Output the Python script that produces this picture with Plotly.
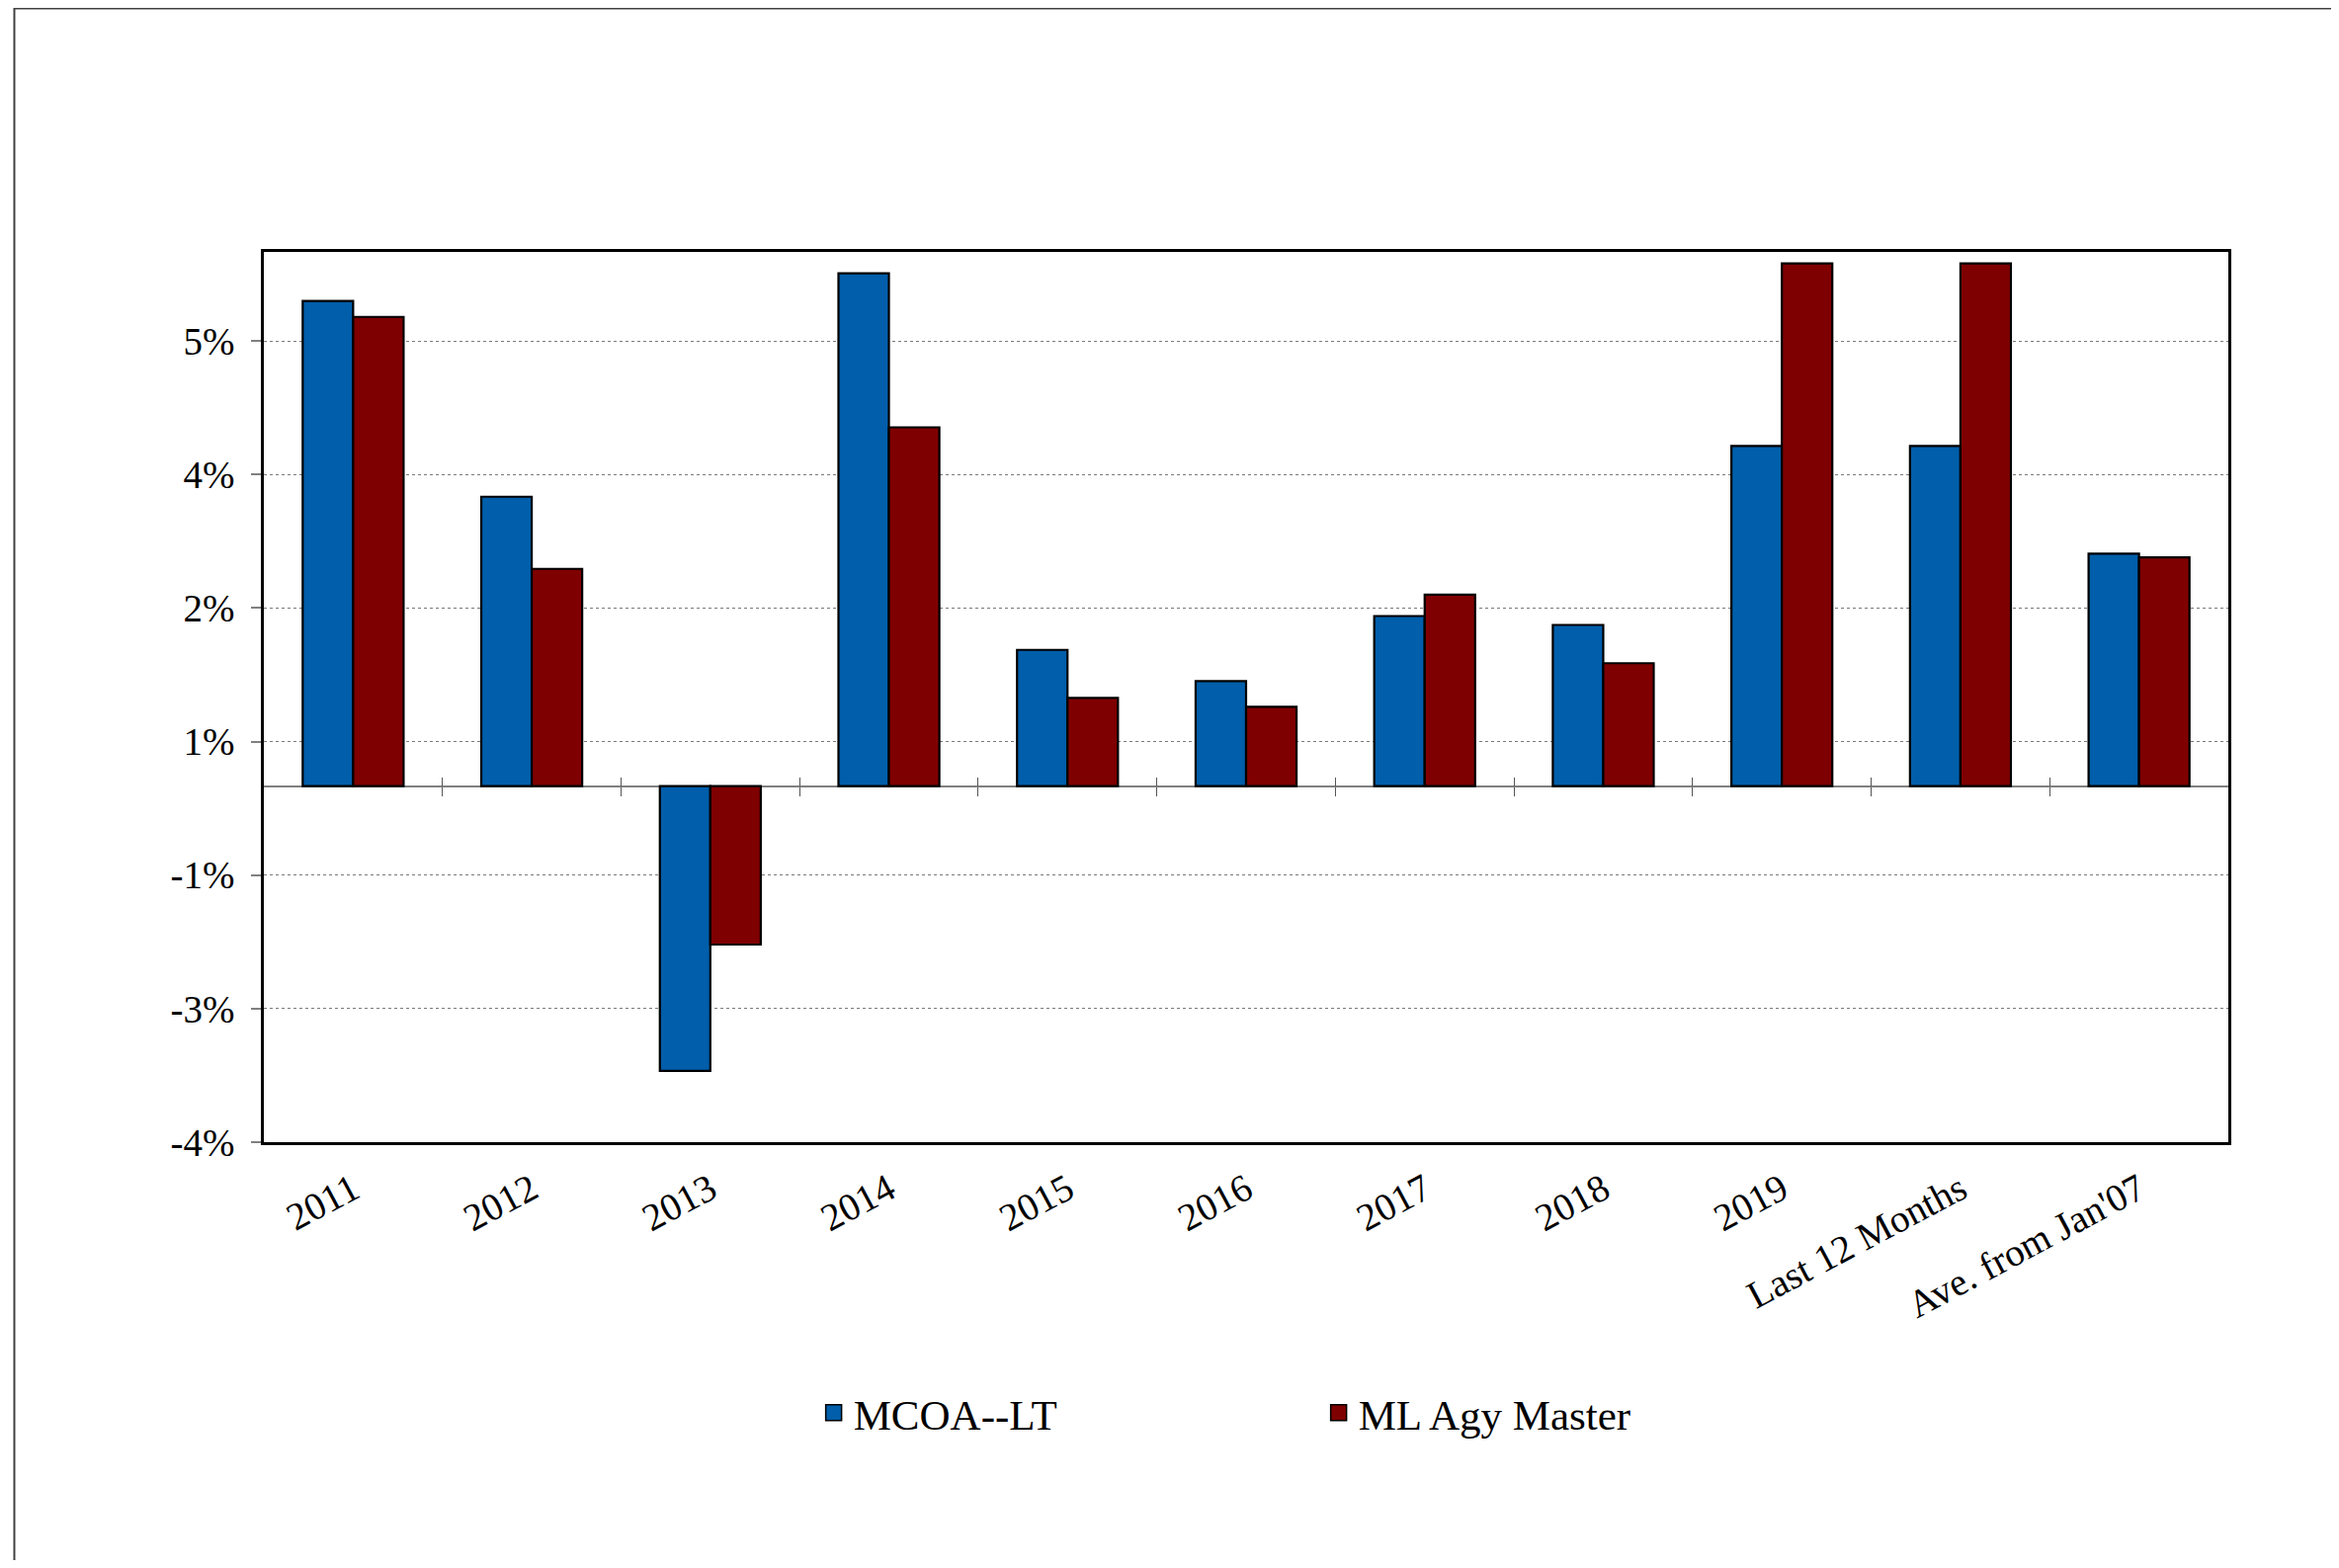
import plotly.graph_objects as go

# ---- data ----
categories = ["2011", "2012", "2013", "2014", "2015", "2016", "2017", "2018",
              "2019", "Last 12 Months", "Ave. from Jan'07"]
mcoa_lt = [5.45, 3.25, -3.20, 5.76, 1.53, 1.18, 1.91, 1.81, 3.82, 3.82, 2.61]
ml_agy_master = [5.27, 2.44, -1.78, 4.03, 0.99, 0.89, 2.15, 1.38, 5.87, 5.87, 2.57]
series_names = ["MCOA--LT", "ML Agy Master"]
y_tick_values = [-4, -2.5, -1, 0.5, 2, 3.5, 5]
y_tick_labels = ["-4%", "-3%", "-1%", "1%", "2%", "4%", "5%"]
y_range = [-4, 6]

# ---- layout geometry (figure pixels; page body adds 8px margin) ----
W, H = 2351, 1571
ML, MR, MT, MB = 259, 104, 247, 423
PW, PH = W - ML - MR, H - MT - MB

FONT = "Liberation Serif, Times New Roman, serif"
BLUE = "#005EAA"
RED = "#7F0000"
colors = [BLUE, RED]

fig = go.Figure()
for vals, name, col in zip([mcoa_lt, ml_agy_master], series_names, colors):
    fig.add_trace(go.Bar(x=categories, y=vals, name=name, showlegend=False,
                         marker=dict(color=col, line=dict(color="black", width=2.2))))

# legend entries with larger square swatches
for name, col in zip(series_names, colors):
    fig.add_trace(go.Scatter(x=[None], y=[None], mode="markers", name=name,
                             marker=dict(symbol="square", size=16, color=col,
                                         line=dict(color="black", width=1.5))))

# helper traces for the category-boundary tick marks crossing the zero line
n = len(categories)
boundaries = [i + 0.5 for i in range(n - 1)]
zero_pos = (0 - y_range[0]) / (y_range[1] - y_range[0])
for ax in ("x2", "x3"):
    fig.add_trace(go.Scatter(x=[], y=[], xaxis=ax, yaxis="y",
                             showlegend=False, hoverinfo="skip"))

fig.update_layout(
    width=W, height=H,
    margin=dict(l=ML, r=MR, t=MT, b=MB, pad=0),
    paper_bgcolor="white", plot_bgcolor="white",
    barmode="group", bargap=0.435, bargroupgap=0,
    font=dict(family=FONT, color="black", size=39),
    showlegend=True,
    legend=dict(orientation="h", x=0.28, xanchor="left", y=-0.304, yanchor="middle",
                font=dict(family=FONT, size=43, color="black"),
                entrywidth=466, entrywidthmode="pixels",
                bgcolor="rgba(0,0,0,0)", traceorder="normal"),
    xaxis=dict(type="category", showline=True, linecolor="black", linewidth=2.5,
               mirror=True, ticks="", tickangle=-28, ticklabelstandoff=7,
               tickfont=dict(family=FONT, size=39, color="black"),
               showgrid=False, zeroline=False, range=[-0.5, n - 0.5]),
    xaxis2=dict(overlaying="x", anchor="free", position=zero_pos, type="linear",
                range=[-0.5, n - 0.5], tickmode="array", tickvals=boundaries,
                ticks="outside", ticklen=9, tickwidth=1.2, tickcolor="#555555",
                showticklabels=False, showline=False, showgrid=False, zeroline=False),
    xaxis3=dict(overlaying="x", anchor="free", position=zero_pos, type="linear",
                range=[-0.5, n - 0.5], tickmode="array", tickvals=boundaries,
                ticks="inside", ticklen=9, tickwidth=1.2, tickcolor="#555555",
                showticklabels=False, showline=False, showgrid=False, zeroline=False),
    yaxis=dict(range=y_range, tickmode="array", tickvals=y_tick_values,
               ticktext=y_tick_labels, ticks="outside", ticklen=10,
               tickcolor="#808080", tickwidth=1.5, ticklabelstandoff=9,
               tickfont=dict(family=FONT, size=39, color="black"),
               showgrid=True, gridcolor="#7a7a7a", gridwidth=1, griddash="dot",
               zeroline=True, zerolinecolor="#808080", zerolinewidth=1.5,
               showline=True, linecolor="black", linewidth=2.5, mirror=True),
)

# outer chart-area frame (clipped by page on right/bottom as in the original)
fig.add_shape(type="rect", xref="paper", yref="paper", layer="below",
              x0=(6.5 - ML) / PW, x1=(W + 50 - ML) / PW,
              y0=(MT + PH - (H + 50)) / PH, y1=(MT + PH - 0.5) / PH,
              line=dict(color="#404040", width=2), fillcolor="rgba(0,0,0,0)")

fig.write_html("out.html")
